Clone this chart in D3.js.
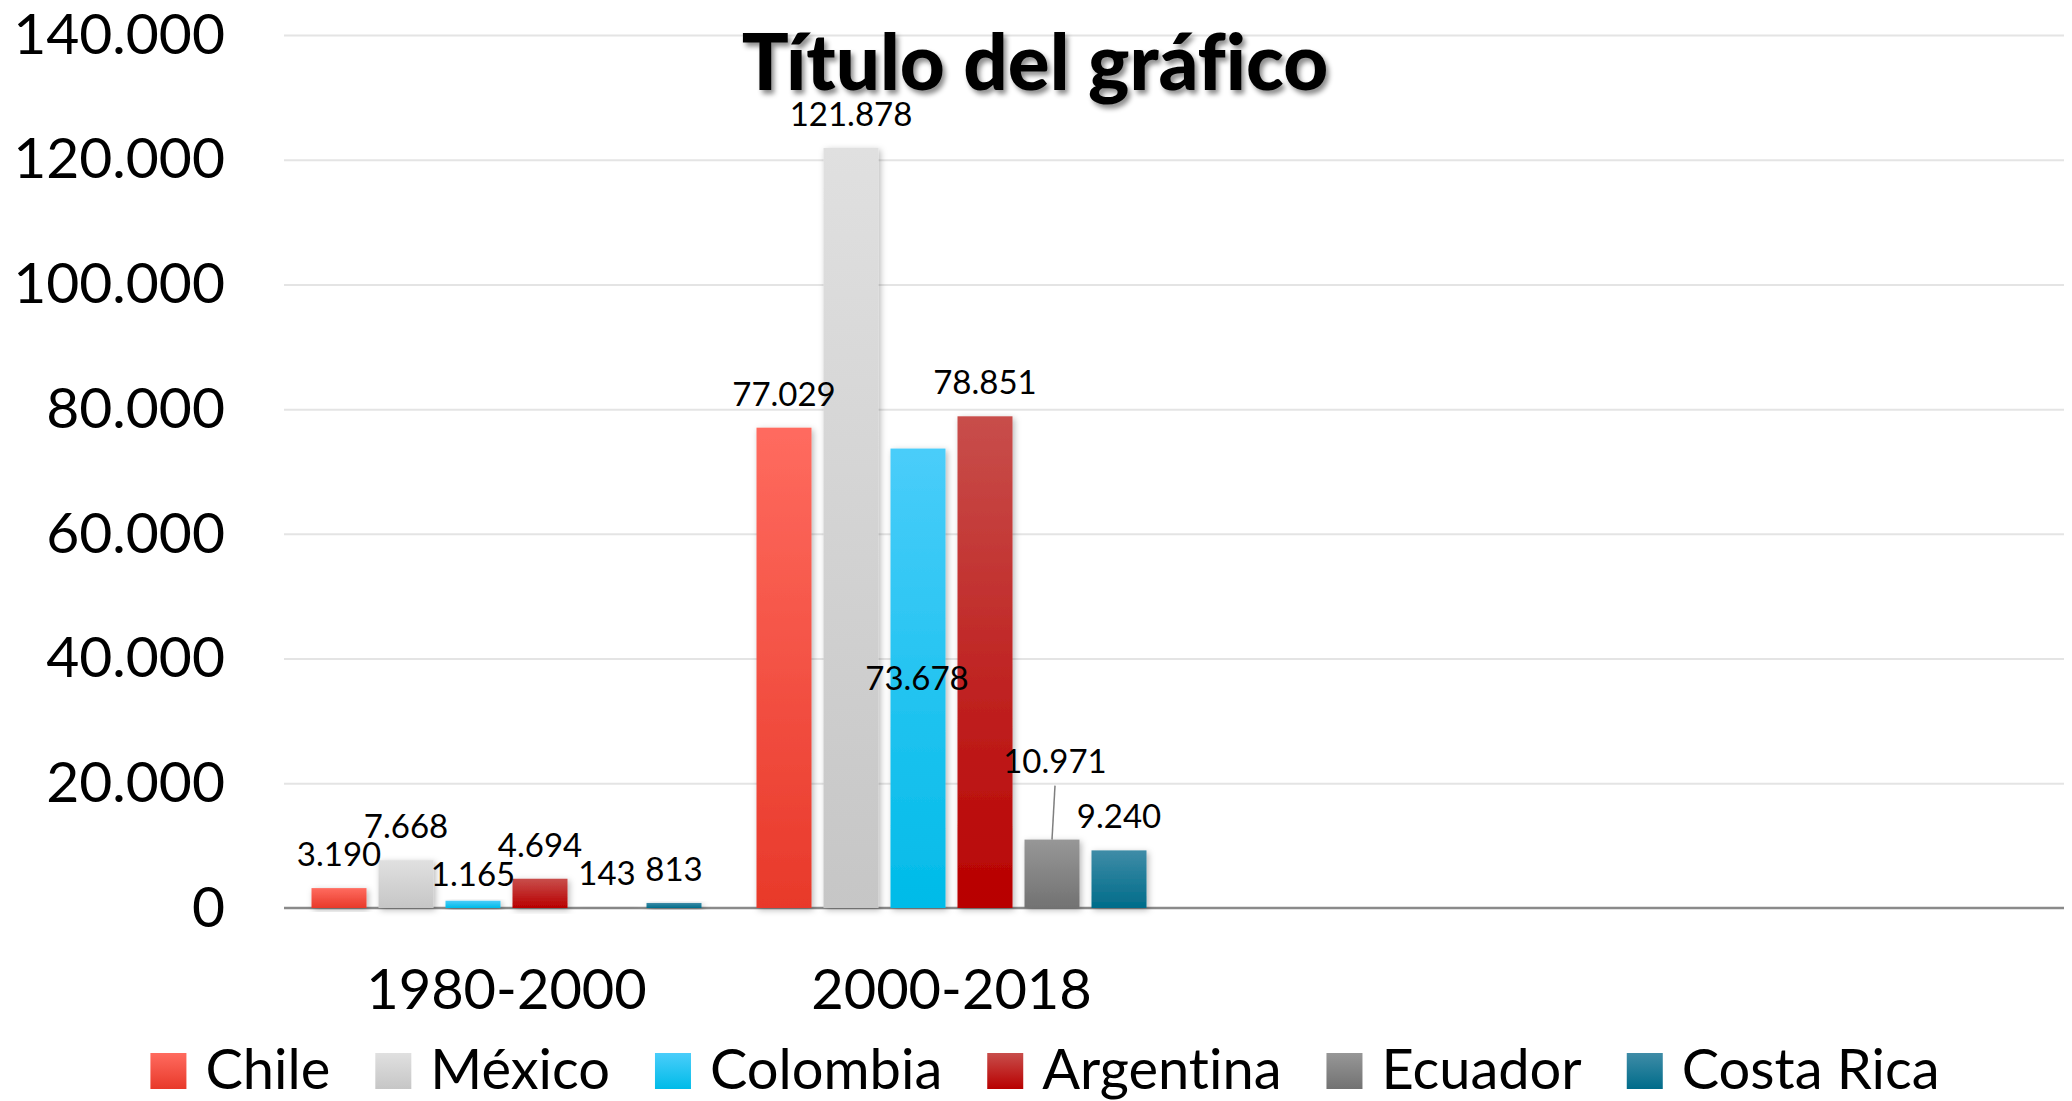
<!DOCTYPE html>
<html lang="es">
<head>
<meta charset="utf-8">
<title>Título del gráfico</title>
<script src="https://cdn.jsdelivr.net/npm/d3@7"></script>
<style>
  html, body { margin: 0; padding: 0; background: #fff; }
  svg { display: block; font-family: Lato, "Open Sans", sans-serif; font-variant-ligatures: none; }
</style>
</head>
<body>
<svg id="chart" width="2072" height="1101"></svg>
<script>
// Periods on the category axis (two further slots stay empty)
const periods = ["1980-2000", "2000-2018"];
const categorySlots = 4;

// Series (one per country)
const countries = ["Chile", "México", "Colombia", "Argentina", "Ecuador", "Costa Rica"];
const values1980 = [3190, 7668, 1165, 4694, 143, 813];
const values2000 = [77029, 121878, 73678, 78851, 10971, 9240];

// Value axis ticks
const yTicks = [0, 20000, 40000, 60000, 80000, 100000, 120000, 140000];

// Gradient fills per country: [top, bottom]
const colors = [
  ["#FF6B5F", "#E8392A"],
  ["#E0E0E0", "#C6C6C6"],
  ["#4ACDFA", "#00BBE8"],
  ["#C84E4B", "#B80000"],
  ["#979797", "#727272"],
  ["#3F8CA7", "#006C8A"]
];

const seriesByPeriod = [values1980, values2000];

// Label placement tweaks where labels would otherwise collide
const labelShift = {
  "1-2": { dx: -1, dy: 263 },
  "1-4": { dx: 3, dy: -45, leader: true },
  "0-2": { dx: 0, dy: 7 }
};

const fmt = d3.formatLocale({ decimal: ",", thousands: ".", grouping: [3], currency: ["", ""] }).format(",d");

const svg = d3.select("#chart");
const plotLeft = 284, plotRight = 2064, plotTop = 35, plotBottom = 908;

const defs = svg.append("defs");
colors.forEach((c, i) => {
  const g = defs.append("linearGradient").attr("id", "grad" + i)
    .attr("x1", 0).attr("y1", 0).attr("x2", 0).attr("y2", 1);
  g.append("stop").attr("offset", "0%").attr("stop-color", c[0]);
  g.append("stop").attr("offset", "100%").attr("stop-color", c[1]);
});
const bs = defs.append("filter").attr("id", "barShadow")
  .attr("x", "-20%").attr("y", "-20%").attr("width", "150%").attr("height", "140%");
bs.append("feDropShadow").attr("dx", 2).attr("dy", 2).attr("stdDeviation", 3)
  .attr("flood-color", "#000").attr("flood-opacity", 0.28);
const tf = defs.append("filter").attr("id", "titleShadow")
  .attr("x", "-10%").attr("y", "-30%").attr("width", "120%").attr("height", "160%");
tf.append("feDropShadow").attr("dx", 3).attr("dy", 4).attr("stdDeviation", 2.5)
  .attr("flood-color", "#000").attr("flood-opacity", 0.45);

const x0 = d3.scaleBand().domain(d3.range(categorySlots)).range([plotLeft, plotRight]).paddingInner(0).paddingOuter(0);
const bw = x0.bandwidth();
const outer = bw * 0.0618;
const x1 = d3.scaleBand().domain(d3.range(countries.length))
  .range([outer, bw - outer]).paddingInner(12 / 67).paddingOuter(0);
const y = d3.scaleLinear().domain([0, 140000]).range([plotBottom, plotTop]);

// Value axis with gridlines
const yAxis = svg.append("g").attr("transform", `translate(${plotLeft},0)`)
  .call(d3.axisLeft(y).tickValues(yTicks).tickFormat(fmt).tickSize(-(plotRight - plotLeft)).tickPadding(59));
yAxis.select(".domain").remove();
yAxis.selectAll(".tick line").attr("stroke", "#E4E4E4").attr("stroke-width", 2)
  .filter(d => d === 0).remove();
yAxis.selectAll(".tick text").attr("font-size", 57).attr("fill", "#000")
  .attr("font-family", "Lato, sans-serif");

// Category axis line (drawn beneath the bars)
svg.append("line").attr("x1", plotLeft).attr("x2", plotRight).attr("y1", plotBottom).attr("y2", plotBottom)
  .attr("stroke", "#8A8A8A").attr("stroke-width", 2.5);

// Bars
const groups = svg.append("g").selectAll("g").data(seriesByPeriod).join("g")
  .attr("transform", (d, i) => `translate(${x0(i)},0)`);
groups.selectAll("rect").data(d => d).join("rect")
  .attr("x", (d, j) => x1(j))
  .attr("width", x1.bandwidth())
  .attr("y", d => y(d))
  .attr("height", d => y(0) - y(d))
  .attr("fill", (d, j) => `url(#grad${j})`)
  .attr("filter", "url(#barShadow)");

const xAxis = svg.append("g").attr("transform", `translate(0,${plotBottom})`)
  .call(d3.axisBottom(x0).tickSize(0).tickPadding(61).tickFormat(i => periods[i] || ""));
xAxis.select(".domain").remove();
xAxis.selectAll(".tick text").attr("font-size", 56).attr("fill", "#000")
  .attr("font-family", "Lato, sans-serif");

// Data labels
const labels = svg.append("g").attr("font-size", 33).attr("fill", "#000").attr("text-anchor", "middle");
seriesByPeriod.forEach((vals, i) => {
  vals.forEach((v, j) => {
    const s = labelShift[`${i}-${j}`] || { dx: 0, dy: 0 };
    const cx = x0(i) + x1(j) + x1.bandwidth() / 2;
    const by = y(v) - 22 + s.dy;
    if (s.leader) {
      svg.append("line").attr("x1", cx + s.dx).attr("y1", by + 13)
        .attr("x2", cx).attr("y2", y(v))
        .attr("stroke", "#7F7F7F").attr("stroke-width", 1.5);
    }
    labels.append("text").attr("x", cx + s.dx).attr("y", by).text(fmt(v));
  });
});

// Title
svg.append("text").attr("x", 1035).attr("y", 90).attr("text-anchor", "middle")
  .attr("font-size", 78).attr("font-weight", 900).attr("fill", "#000")
  .attr("filter", "url(#titleShadow)")
  .text("Título del gráfico");

// Legend
const legend = svg.append("g");
const items = legend.selectAll("g").data(countries).join("g");
items.append("rect").attr("width", 36).attr("height", 36).attr("y", 1053)
  .attr("fill", (d, j) => `url(#grad${j})`);
items.append("text").attr("x", 55).attr("y", 1089).attr("font-size", 56).attr("fill", "#000").text(d => d);
const itemGap = 45;
let cursor = 0;
const offsets = [];
items.each(function () {
  offsets.push(cursor);
  const w = d3.select(this).select("text").node().getComputedTextLength();
  cursor += 55 + w + itemGap;
});
const totalW = cursor - itemGap;
const startX = 1045 - totalW / 2;
items.attr("transform", (d, j) => `translate(${startX + offsets[j]},0)`);
</script>
</body>
</html>
